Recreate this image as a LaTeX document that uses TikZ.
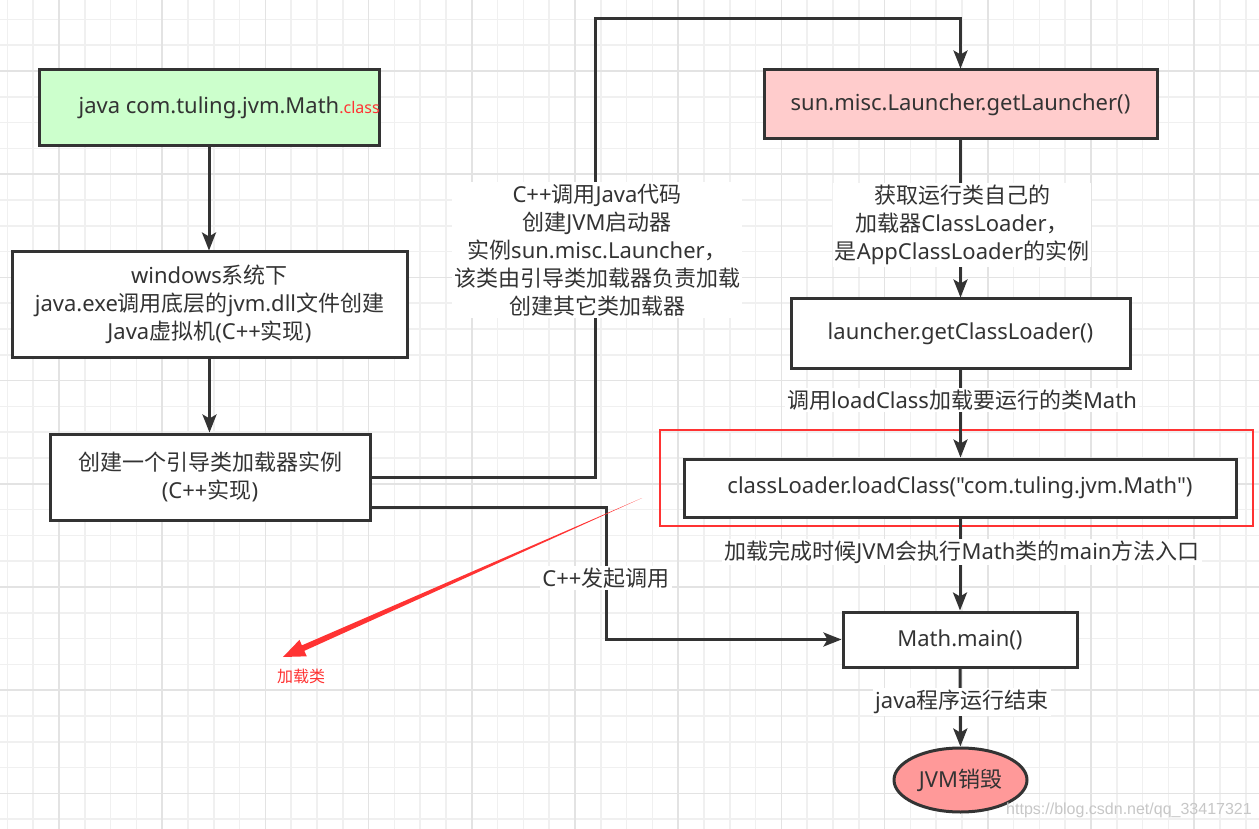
\documentclass[tikz,border=0pt]{standalone}
\usepackage{fontspec}
\setmainfont{Noto Sans CJK SC}
\newfontfamily\enfont{Noto Sans}
\newfontfamily\zhfont{Noto Sans CJK SC}
\newfontfamily\urlfont{Liberation Sans}
\usetikzlibrary{arrows.meta}
\usetikzlibrary{calc}
\usetikzlibrary{shapes.geometric}

% Chinese characters in Noto Sans CJK, everything else in Noto Sans
\XeTeXinterchartokenstate=1
\count255="4E00
\loop\XeTeXcharclass\count255=41 \advance\count255 by 1 \ifnum\count255<"A000 \repeat
\XeTeXcharclass"FF0C=41
\XeTeXinterchartoks 0 41={\zhfont}
\XeTeXinterchartoks 4095 41={\zhfont}
\XeTeXinterchartoks 41 0={\enfont}
\XeTeXinterchartoks 4095 0={\enfont}

\definecolor{linegray}{HTML}{333333}
\definecolor{greenfill}{HTML}{CCFFCC}
\definecolor{pinkfill}{HTML}{FFCCCC}
\definecolor{endfill}{HTML}{FF9999}
\definecolor{annored}{HTML}{FF3333}
\definecolor{gridminor}{HTML}{F0F0F0}
\definecolor{gridmajor}{HTML}{E3E3E3}

\tikzset{
  flowbox/.style={draw=linegray, line width=3pt, fill=white, text=linegray,
    align=center, inner sep=2pt, font=\fontsize{22}{28}\selectfont},
  flowline/.style={draw=linegray, line width=3pt,
    -{Stealth[length=18pt,width=14pt,inset=4pt]}},
  edgelabel/.style={fill=white, text=linegray, align=center, inner sep=2pt,
    font=\fontsize{22}{28}\selectfont}
}

\begin{document}
\begin{tikzpicture}[x=1pt,y=-1pt]
  \useasboundingbox (0,0) rectangle (1259,829);
  \fill[white] (0,0) rectangle (1259,829);

  % grid
  \foreach \i in {0,...,48}
    \draw[gridminor, line width=1.5pt] (7.4+25.8*\i,0) -- (7.4+25.8*\i,829);
  \foreach \i in {0,...,31}
    \draw[gridminor, line width=1.5pt] (0,19.4+25.8*\i) -- (1259,19.4+25.8*\i);
  \foreach \i in {0,...,11}
    \draw[gridmajor, line width=1.5pt] (59+103.2*\i,0) -- (59+103.2*\i,829);
  \foreach \i in {0,...,7}
    \draw[gridmajor, line width=1.5pt] (0,71+103.2*\i) -- (1259,71+103.2*\i);

  % left column
  \node[flowbox, fill=greenfill, minimum width=340pt, minimum height=76pt] (javacmd) at (209,108)
    {java com.tuling.jvm.Math\rlap{\color{annored}\fontsize{16}{16}\selectfont .class}};
  \node[flowbox, minimum width=395pt, minimum height=105pt] (jvmbox) at (209.5,304.5)
    {windows系统下\\java.exe调用底层的jvm.dll文件创建\\Java虚拟机(C++实现)};
  \node[flowbox, minimum width=320pt, minimum height=86pt] (bootbox) at (210,477)
    {创建一个引导类加载器实例\\(C++实现)};

  % right column
  \node[flowbox, fill=pinkfill, minimum width=393pt, minimum height=69pt] (getlauncher) at (960.5,104.5)
    {sun.misc.Launcher.getLauncher()};
  \node[flowbox, minimum width=339pt, minimum height=69pt] (getloader) at (960.5,333.5)
    {launcher.getClassLoader()};
  \node[flowbox, minimum width=552pt, minimum height=58pt] (loadclass) at (960,488)
    {classLoader.loadClass("com.tuling.jvm.Math")};
  \node[flowbox, minimum width=234pt, minimum height=55pt] (mathmain) at (960,639.5)
    {Math.main()};
  \node[flowbox, ellipse, fill=endfill, inner sep=0pt, minimum width=133pt, minimum height=64pt] (jvmend) at (960.5,780)
    {JVM销毁};

  \draw[annored, line width=2.5pt] (660,430) rectangle (1253,526);

  % connectors
  \coordinate (upturn) at (595,19);
  \coordinate (callturn) at (606,507);
  \draw[flowline] (javacmd.south) -- (javacmd.south |- jvmbox.north);
  \draw[flowline] (jvmbox.south) -- (jvmbox.south |- bootbox.north);
  \draw[flowline] (bootbox.east) -| (upturn) -| (getlauncher.north);
  \draw[flowline] (bootbox.east |- callturn) -- (callturn) |- (mathmain.west);
  \draw[flowline] (getlauncher) -- (getloader);
  \draw[flowline] (getloader.south) -- (getloader.south |- loadclass.north);
  \draw[flowline] (loadclass) -- (mathmain);
  \draw[flowline] (mathmain) -- (jvmend);

  % labels
  \node[edgelabel] (launchnote) at (597,250)
    {C++调用Java代码\\创建JVM启动器\\实例sun.misc.Launcher，\\该类由引导类加载器负责加载\\创建其它类加载器};
  \node[edgelabel] (callnote) at (606,578) {C++发起调用};
  \node[edgelabel] (loadernote) at (962,225)
    {获取运行类自己的\\加载器ClassLoader，\\是AppClassLoader的实例};
  \node[edgelabel] (loadnote) at (962,400) {调用loadClass加载要运行的类Math};
  \node[edgelabel] (mainnote) at (962,552) {加载完成时候JVM会执行Math类的main方法入口};
  \node[edgelabel] (endnote) at (962,702) {java程序运行结束};

  % red annotation
  \node[text=annored, font=\fontsize{16}{16}\selectfont] (classnote) at (301,676) {加载类};
  \coordinate (annotail) at (642,498);
  \coordinate (annotip) at (283,657);
  \coordinate (annobase) at ($(annotip)!22pt!(annotail)$);
  \fill[annored] (annotail) -- ($(annobase)!3pt!90:(annotip)$) -- ($(annobase)!9pt!90:(annotip)$)
    -- (annotip) -- ($(annobase)!9pt!-90:(annotip)$) -- ($(annobase)!3pt!-90:(annotip)$) -- cycle;

  \node[text=black!22, font={\XeTeXinterchartokenstate=0 \urlfont\fontsize{16}{16}\selectfont}] (watermark) at (1129,810)
    {https://blog.csdn.net/qq\_33417321};
\end{tikzpicture}
\end{document}
